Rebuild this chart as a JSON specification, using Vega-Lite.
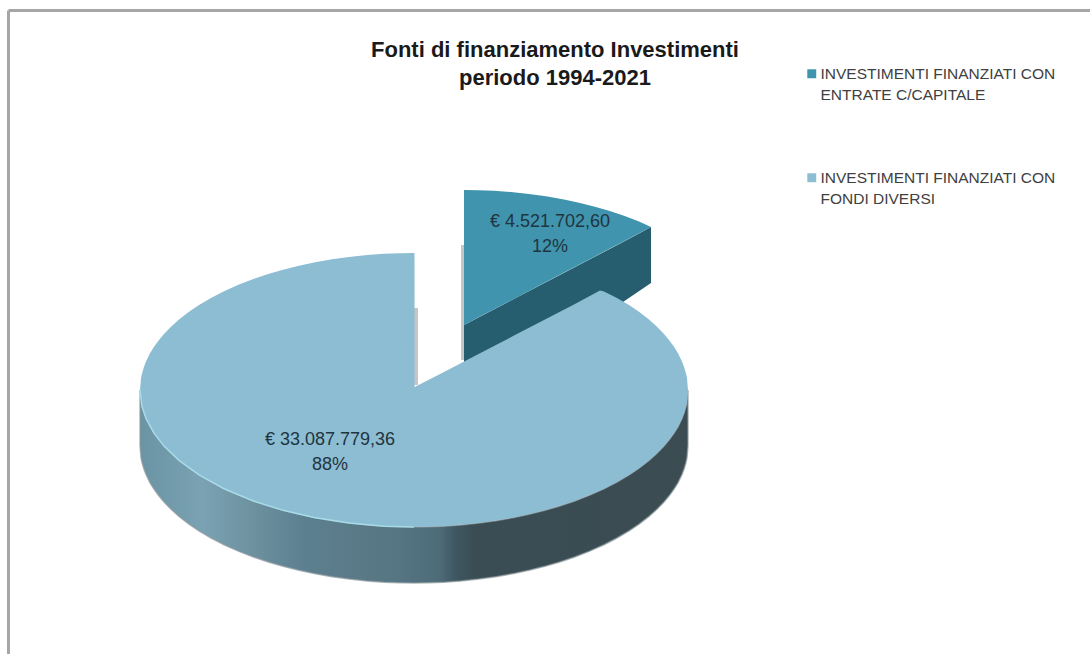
{"$schema":"https://vega.github.io/schema/vega-lite/v6.json","width":1082,"height":644,"autosize":{"type":"none"},"padding":{"left":8,"top":10,"right":0,"bottom":0},"background":"#ffffff","config":{"view":{"stroke":null}},
"title":{"text":["Fonti di finanziamento Investimenti","periodo 1994-2021"],"font":"Liberation Sans","fontSize":22,"fontWeight":"bold","color":"#1a1a1a","lineHeight":28,"anchor":"middle","dx":6,"dy":84},
"datasets":{
"shadows":[{"part":"a","x":414,"y":308,"y2":385},{"part":"a","x":418,"y":308,"y2":385},{"part":"b","x":461,"y":245,"y2":360},{"part":"b","x":465,"y":245,"y2":360}],
"wedgeSide":[{"x":464,"y":325,"y2":386},{"x":623,"y":242,"y2":302},{"x":651,"y":227,"y2":283}],
"wall":[{"x":140,"y":390,"y2":446},{"x":141,"y":401.7,"y2":457.7},{"x":142,"y":406.5,"y2":462.5},{"x":144,"y":413.3,"y2":469.3},{"x":146,"y":418.5,"y2":474.5},{"x":150,"y":426.8,"y2":482.8},{"x":154,"y":433.2,"y2":489.2},{"x":159,"y":440.1,"y2":496.1},{"x":164,"y":446.1,"y2":502.1},{"x":171,"y":453.3,"y2":509.3},{"x":179,"y":460.4,"y2":516.4},{"x":189,"y":468.2,"y2":524.2},{"x":199,"y":474.9,"y2":530.9},{"x":211,"y":482,"y2":538},{"x":224,"y":488.7,"y2":544.7},{"x":239,"y":495.4,"y2":551.4},{"x":254,"y":501.2,"y2":557.2},{"x":269,"y":506.2,"y2":562.2},{"x":284,"y":510.6,"y2":566.6},{"x":299,"y":514.3,"y2":570.3},{"x":314,"y":517.5,"y2":573.5},{"x":332,"y":520.7,"y2":576.7},{"x":349,"y":523.1,"y2":579.1},{"x":367,"y":525,"y2":581},{"x":384,"y":526.2,"y2":582.2},{"x":399,"y":526.8,"y2":582.8},{"x":414,"y":527,"y2":583},{"x":429,"y":526.8,"y2":582.8},{"x":444,"y":526.2,"y2":582.2},{"x":461,"y":525,"y2":581},{"x":479,"y":523.1,"y2":579.1},{"x":496,"y":520.7,"y2":576.7},{"x":514,"y":517.5,"y2":573.5},{"x":529,"y":514.3,"y2":570.3},{"x":544,"y":510.6,"y2":566.6},{"x":559,"y":506.2,"y2":562.2},{"x":574,"y":501.2,"y2":557.2},{"x":589,"y":495.4,"y2":551.4},{"x":604,"y":488.7,"y2":544.7},{"x":617,"y":482,"y2":538},{"x":629,"y":474.9,"y2":530.9},{"x":639,"y":468.2,"y2":524.2},{"x":649,"y":460.4,"y2":516.4},{"x":657,"y":453.3,"y2":509.3},{"x":664,"y":446.1,"y2":502.1},{"x":669,"y":440.1,"y2":496.1},{"x":674,"y":433.2,"y2":489.2},{"x":678,"y":426.8,"y2":482.8},{"x":682,"y":418.5,"y2":474.5},{"x":684,"y":413.3,"y2":469.3},{"x":686,"y":406.5,"y2":462.5},{"x":687,"y":401.7,"y2":457.7},{"x":688,"y":390,"y2":446}],
"rim":[{"x":140,"y":390},{"x":142,"y":406.5},{"x":146,"y":418.5},{"x":154,"y":433.2},{"x":164,"y":446.1},{"x":179,"y":460.4},{"x":199,"y":474.9},{"x":224,"y":488.7},{"x":254,"y":501.2},{"x":284,"y":510.6},{"x":314,"y":517.5},{"x":349,"y":523.1},{"x":384,"y":526.2},{"x":414,"y":527}],
"faces":[
{"series":"INVESTIMENTI FINANZIATI CON ENTRATE C/CAPITALE","x":464,"y":190,"y2":325},{"series":"INVESTIMENTI FINANZIATI CON ENTRATE C/CAPITALE","x":479,"y":190.2,"y2":317.1},{"series":"INVESTIMENTI FINANZIATI CON ENTRATE C/CAPITALE","x":494,"y":190.8,"y2":309.3},{"series":"INVESTIMENTI FINANZIATI CON ENTRATE C/CAPITALE","x":511,"y":192,"y2":300.4},{"series":"INVESTIMENTI FINANZIATI CON ENTRATE C/CAPITALE","x":529,"y":193.9,"y2":291},{"series":"INVESTIMENTI FINANZIATI CON ENTRATE C/CAPITALE","x":546,"y":196.3,"y2":282},{"series":"INVESTIMENTI FINANZIATI CON ENTRATE C/CAPITALE","x":564,"y":199.5,"y2":272.6},{"series":"INVESTIMENTI FINANZIATI CON ENTRATE C/CAPITALE","x":579,"y":202.7,"y2":264.7},{"series":"INVESTIMENTI FINANZIATI CON ENTRATE C/CAPITALE","x":594,"y":206.4,"y2":256.9},{"series":"INVESTIMENTI FINANZIATI CON ENTRATE C/CAPITALE","x":609,"y":210.8,"y2":249},{"series":"INVESTIMENTI FINANZIATI CON ENTRATE C/CAPITALE","x":624,"y":215.8,"y2":241.2},{"series":"INVESTIMENTI FINANZIATI CON ENTRATE C/CAPITALE","x":639,"y":221.6,"y2":233.3},{"series":"INVESTIMENTI FINANZIATI CON ENTRATE C/CAPITALE","x":651,"y":227,"y2":227},
{"series":"INVESTIMENTI FINANZIATI CON FONDI DIVERSI","x":140,"y":390,"y2":390},{"series":"INVESTIMENTI FINANZIATI CON FONDI DIVERSI","x":141,"y":378.3,"y2":401.7},{"series":"INVESTIMENTI FINANZIATI CON FONDI DIVERSI","x":142,"y":373.5,"y2":406.5},{"series":"INVESTIMENTI FINANZIATI CON FONDI DIVERSI","x":144,"y":366.7,"y2":413.3},{"series":"INVESTIMENTI FINANZIATI CON FONDI DIVERSI","x":146,"y":361.5,"y2":418.5},{"series":"INVESTIMENTI FINANZIATI CON FONDI DIVERSI","x":150,"y":353.2,"y2":426.8},{"series":"INVESTIMENTI FINANZIATI CON FONDI DIVERSI","x":154,"y":346.8,"y2":433.2},{"series":"INVESTIMENTI FINANZIATI CON FONDI DIVERSI","x":159,"y":339.9,"y2":440.1},{"series":"INVESTIMENTI FINANZIATI CON FONDI DIVERSI","x":164,"y":333.9,"y2":446.1},{"series":"INVESTIMENTI FINANZIATI CON FONDI DIVERSI","x":171,"y":326.7,"y2":453.3},{"series":"INVESTIMENTI FINANZIATI CON FONDI DIVERSI","x":179,"y":319.6,"y2":460.4},{"series":"INVESTIMENTI FINANZIATI CON FONDI DIVERSI","x":189,"y":311.8,"y2":468.2},{"series":"INVESTIMENTI FINANZIATI CON FONDI DIVERSI","x":199,"y":305.1,"y2":474.9},{"series":"INVESTIMENTI FINANZIATI CON FONDI DIVERSI","x":211,"y":298,"y2":482},{"series":"INVESTIMENTI FINANZIATI CON FONDI DIVERSI","x":224,"y":291.3,"y2":488.7},{"series":"INVESTIMENTI FINANZIATI CON FONDI DIVERSI","x":239,"y":284.6,"y2":495.4},{"series":"INVESTIMENTI FINANZIATI CON FONDI DIVERSI","x":254,"y":278.8,"y2":501.2},{"series":"INVESTIMENTI FINANZIATI CON FONDI DIVERSI","x":269,"y":273.8,"y2":506.2},{"series":"INVESTIMENTI FINANZIATI CON FONDI DIVERSI","x":284,"y":269.4,"y2":510.6},{"series":"INVESTIMENTI FINANZIATI CON FONDI DIVERSI","x":299,"y":265.7,"y2":514.3},{"series":"INVESTIMENTI FINANZIATI CON FONDI DIVERSI","x":314,"y":262.5,"y2":517.5},{"series":"INVESTIMENTI FINANZIATI CON FONDI DIVERSI","x":332,"y":259.3,"y2":520.7},{"series":"INVESTIMENTI FINANZIATI CON FONDI DIVERSI","x":349,"y":256.9,"y2":523.1},{"series":"INVESTIMENTI FINANZIATI CON FONDI DIVERSI","x":367,"y":255,"y2":525},{"series":"INVESTIMENTI FINANZIATI CON FONDI DIVERSI","x":384,"y":253.8,"y2":526.2},{"series":"INVESTIMENTI FINANZIATI CON FONDI DIVERSI","x":399,"y":253.2,"y2":526.8},{"series":"INVESTIMENTI FINANZIATI CON FONDI DIVERSI","x":414.5,"y":253,"y2":527},{"series":"INVESTIMENTI FINANZIATI CON FONDI DIVERSI","x":414.6,"y":387,"y2":527},{"series":"INVESTIMENTI FINANZIATI CON FONDI DIVERSI","x":444,"y":372,"y2":526.2},{"series":"INVESTIMENTI FINANZIATI CON FONDI DIVERSI","x":479,"y":353.8,"y2":523.1},{"series":"INVESTIMENTI FINANZIATI CON FONDI DIVERSI","x":514,"y":335.6,"y2":517.5},{"series":"INVESTIMENTI FINANZIATI CON FONDI DIVERSI","x":544,"y":320,"y2":510.6},{"series":"INVESTIMENTI FINANZIATI CON FONDI DIVERSI","x":574,"y":304.5,"y2":501.2},{"series":"INVESTIMENTI FINANZIATI CON FONDI DIVERSI","x":600,"y":290.5,"y2":490.6},{"series":"INVESTIMENTI FINANZIATI CON FONDI DIVERSI","x":604,"y":291.5,"y2":488.7},{"series":"INVESTIMENTI FINANZIATI CON FONDI DIVERSI","x":617,"y":298,"y2":482},{"series":"INVESTIMENTI FINANZIATI CON FONDI DIVERSI","x":629,"y":305.1,"y2":474.9},{"series":"INVESTIMENTI FINANZIATI CON FONDI DIVERSI","x":639,"y":311.8,"y2":468.2},{"series":"INVESTIMENTI FINANZIATI CON FONDI DIVERSI","x":649,"y":319.6,"y2":460.4},{"series":"INVESTIMENTI FINANZIATI CON FONDI DIVERSI","x":657,"y":326.7,"y2":453.3},{"series":"INVESTIMENTI FINANZIATI CON FONDI DIVERSI","x":664,"y":333.9,"y2":446.1},{"series":"INVESTIMENTI FINANZIATI CON FONDI DIVERSI","x":669,"y":339.9,"y2":440.1},{"series":"INVESTIMENTI FINANZIATI CON FONDI DIVERSI","x":674,"y":346.8,"y2":433.2},{"series":"INVESTIMENTI FINANZIATI CON FONDI DIVERSI","x":678,"y":353.2,"y2":426.8},{"series":"INVESTIMENTI FINANZIATI CON FONDI DIVERSI","x":682,"y":361.5,"y2":418.5},{"series":"INVESTIMENTI FINANZIATI CON FONDI DIVERSI","x":684,"y":366.7,"y2":413.3},{"series":"INVESTIMENTI FINANZIATI CON FONDI DIVERSI","x":686,"y":373.5,"y2":406.5},{"series":"INVESTIMENTI FINANZIATI CON FONDI DIVERSI","x":687,"y":378.3,"y2":401.7},{"series":"INVESTIMENTI FINANZIATI CON FONDI DIVERSI","x":688,"y":390,"y2":390}],
"labels":[{"x":550,"y":222,"label":"€ 4.521.702,60\n12%","value":4521702.60,"share":12},{"x":330,"y":440,"label":"€ 33.087.779,36\n88%","value":33087779.36,"share":88}]
},
"encoding":{
"x":{"field":"x","type":"quantitative","scale":{"domain":[8,1090],"nice":false,"zero":false},"axis":{"orient":"top","title":null,"labels":false,"ticks":false,"grid":false,"domain":true,"domainColor":"#a6a6a6","domainWidth":3}},
"y":{"field":"y","type":"quantitative","scale":{"domain":[654,10],"nice":false,"zero":false},"axis":{"orient":"left","title":null,"labels":false,"ticks":false,"grid":false,"domain":true,"domainColor":"#a6a6a6","domainWidth":3}}
},
"layer":[
{"data":{"name":"shadows"},"mark":{"type":"area","orient":"vertical","color":"#c6c6c6"},"encoding":{"y2":{"field":"y2"},"detail":{"field":"part"}}},
{"data":{"name":"wedgeSide"},"mark":{"type":"area","color":"#265e70"},"encoding":{"y2":{"field":"y2"}}},
{"data":{"name":"wall"},"mark":{"type":"area","stroke":"#8f9a9e","strokeWidth":1.5,"strokeOpacity":0.7,"color":{"gradient":"linear","x1":0,"x2":1,"y1":0,"y2":0,"stops":[{"offset":0,"color":"#6a93a4"},{"offset":0.115,"color":"#7aa2b3"},{"offset":0.206,"color":"#6d919f"},{"offset":0.297,"color":"#5c8090"},{"offset":0.389,"color":"#5a7a88"},{"offset":0.474,"color":"#557583"},{"offset":0.547,"color":"#4e6b78"},{"offset":0.575,"color":"#3f5763"},{"offset":0.61,"color":"#3a4d54"},{"offset":1,"color":"#3b4c52"}]}},"encoding":{"y2":{"field":"y2"}}},
{"data":{"name":"faces"},"mark":{"type":"area","orient":"vertical"},"encoding":{"y2":{"field":"y2"},"color":{"field":"series","type":"nominal","scale":{"domain":["INVESTIMENTI FINANZIATI CON ENTRATE C/CAPITALE","INVESTIMENTI FINANZIATI CON FONDI DIVERSI"],"range":["#4094ae","#8dbdd3"]},"legend":{"title":null,"orient":"none","legendX":796,"legendY":56,"symbolType":"square","symbolSize":80,"symbolStrokeWidth":0,"labelFont":"Liberation Sans","labelFontSize":15.5,"labelColor":"#404040","labelLimit":300,"labelOffset":1,"rowPadding":66,"labelExpr":"split(replace(datum.label,' CON ',' CON|'),'|')","encoding":{"labels":{"lineHeight":{"value":21}}}}}}},
{"data":{"name":"rim"},"mark":{"type":"line","color":"#a6dbe9","strokeWidth":1.5},"encoding":{}},
{"data":{"name":"labels"},"mark":{"type":"text","font":"Liberation Sans","fontSize":18,"color":"#1f3540","lineBreak":"\n","lineHeight":25,"align":"center","baseline":"middle"},"encoding":{"text":{"field":"label"}}}
]}
